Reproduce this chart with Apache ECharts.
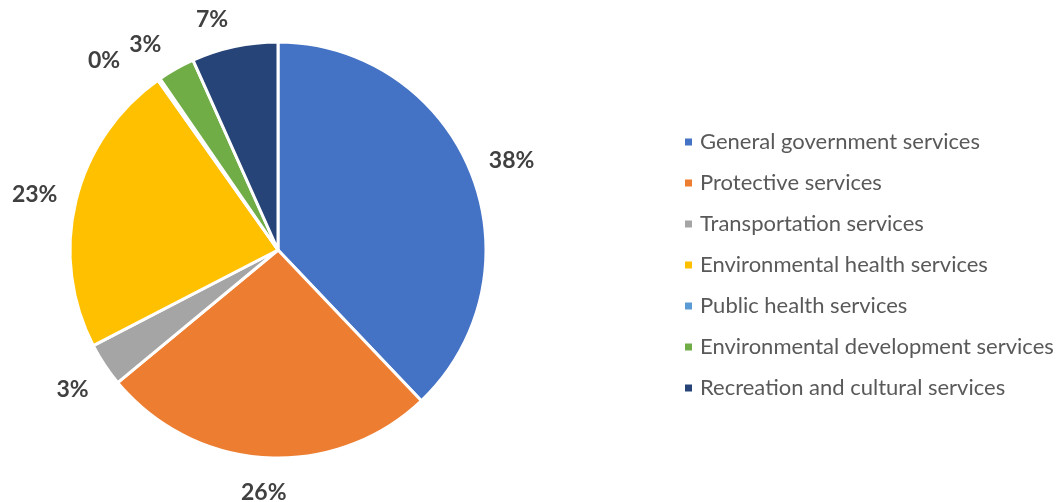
<!DOCTYPE html>
<html>
<head>
<meta charset="utf-8">
<script src="https://cdn.jsdelivr.net/npm/echarts@6/dist/echarts.min.js"></script>
<style>
  html, body { margin: 0; padding: 0; background: #ffffff; }
  #chart { width: 1062px; height: 502px; }
</style>
</head>
<body>
<div id="chart"></div>
<script>
// Expenditure share by service category (percent)
const categories = [
  'General government services',
  'Protective services',
  'Transportation services',
  'Environmental health services',
  'Public health services',
  'Environmental development services',
  'Recreation and cultural services'
];
const shares = [37.9, 26.1, 3.4, 22.8, 0.2, 2.9, 6.7];
const colors = ['#4472C4', '#ED7D31', '#A5A5A5', '#FFC000', '#5B9BD5', '#70AD47', '#264478'];

const CX = 278, CY = 250, R = 208;
const LABEL_GAP = 19;
const LABEL_DY = 4;
// small manual nudges where neighbouring labels would crowd each other
const labelNudge = { 4: [-36, 4], 5: [-15, 0], 6: [-16, -1] };

const total = shares.reduce((a, b) => a + b, 0);
const midAngles = [];
let acc = 0;
shares.forEach(v => {
  midAngles.push((acc + v / 2) / total * Math.PI * 2); // clockwise from 12 o'clock
  acc += v;
});

const chart = echarts.init(document.getElementById('chart'), null, { renderer: 'canvas' });
chart.setOption({
  backgroundColor: '#ffffff',
  animation: false,
  color: colors,
  legend: {
    orient: 'vertical',
    left: 678,
    top: 126,
    itemWidth: 9,
    itemHeight: 9,
    itemGap: 19,
    icon: 'rect',
    textStyle: { fontFamily: 'Lato', fontSize: 22, color: '#595959', padding: [0, 0, 0, 2] },
    data: categories
  },
  series: [{
    type: 'pie',
    center: [CX, CY],
    radius: R,
    startAngle: 90,
    clockwise: true,
    percentPrecision: 0,
    itemStyle: { borderColor: '#ffffff', borderWidth: 3 },
    emphasis: { disabled: true },
    label: {
      show: true,
      position: 'outside',
      formatter: '{d}%',
      fontFamily: 'Lato',
      fontWeight: 'bold',
      fontSize: 23,
      color: '#404040'
    },
    labelLine: { show: false, length: 0, length2: 0 },
    labelLayout: function (params) {
      const i = params.dataIndex;
      const a = midAngles[i];
      const dx = Math.sin(a), dy = -Math.cos(a);
      const w = params.labelRect.width, h = params.labelRect.height;
      const t = Math.min(
        Math.abs(dx) > 1e-6 ? w / 2 / Math.abs(dx) : Infinity,
        Math.abs(dy) > 1e-6 ? h / 2 / Math.abs(dy) : Infinity
      );
      const d = R + LABEL_GAP + t;
      const n = labelNudge[i] || [0, 0];
      return {
        x: CX + dx * d + n[0],
        y: CY + dy * d + n[1] + LABEL_DY,
        align: 'center',
        verticalAlign: 'middle'
      };
    },
    data: categories.map((name, i) => ({ name: name, value: shares[i] }))
  }]
});
</script>
</body>
</html>
